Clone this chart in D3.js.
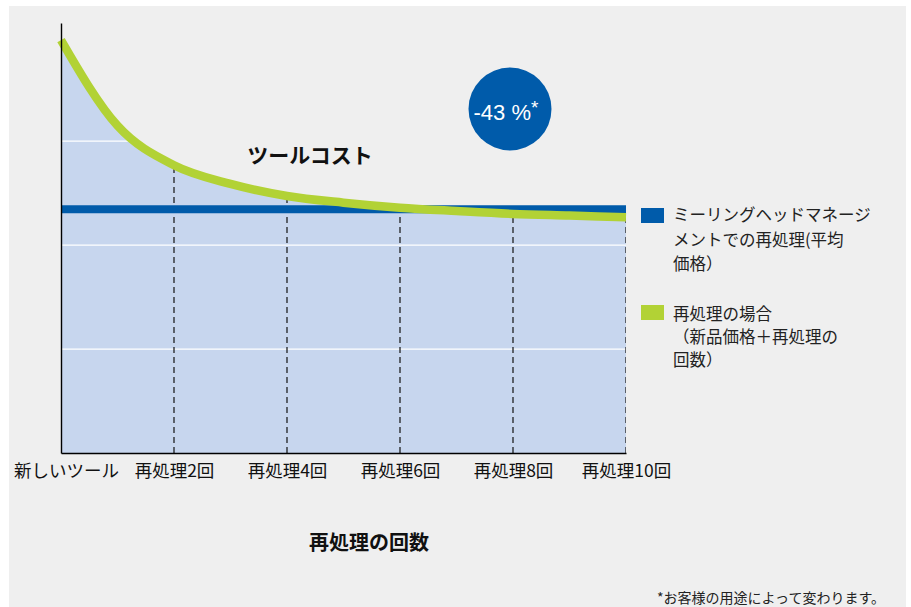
<!DOCTYPE html>
<html><head><meta charset="utf-8">
<script src="https://cdn.jsdelivr.net/npm/d3@7"></script>
<style>
body{margin:0;background:#fff;}
svg{display:block;font-family:"Noto Sans CJK JP","Noto Sans",sans-serif;}
</style></head>
<body><svg id="c" width="911" height="607"></svg>
<script>
// ---- data ----
const counts = [0,1,2,3,4,5,6,7,8,9,10];
const reprocessCost = [99.3,78.7,69.2,64.7,61.8,60.2,59.0,58.2,57.5,57.1,56.7];
const millingAvg = 58.6;
const tickCounts = [0,2,4,6,8,10];
const tickLabels = ["新しいツール","再処理2回","再処理4回","再処理6回","再処理8回","再処理10回"];
const gridValues = [25,50,75];
const legendBlue = ["ミーリングヘッドマネージ","メントでの再処理(平均","価格）"];
const legendGreen = ["再処理の場合","（新品価格＋再処理の","回数）"];

const svg = d3.select("#c");
svg.append("rect").attr("x",9).attr("y",6).attr("width",897).attr("height",601).attr("fill","#efefef");

const x = d3.scaleLinear().domain([0,10]).range([61,626]);
const y = d3.scaleLinear().domain([0,103.4]).range([453,23]);

const pts = counts.map((c,i)=>({c, v:reprocessCost[i]}));

const area = d3.area().x(d=>x(d.c)).y0(y(0)).y1(d=>y(d.v)).curve(d3.curveMonotoneX);
const line = d3.line().x(d=>x(d.c)).y(d=>y(d.v)).curve(d3.curveMonotoneX);

svg.append("clipPath").attr("id","ac").append("path").attr("d",area(pts));

svg.append("path").attr("d",area(pts)).attr("fill","#c7d6ee");

const g = svg.append("g").attr("clip-path","url(#ac)");
g.selectAll(".grid").data(gridValues).join("line")
  .attr("x1",x(0)).attr("x2",x(10)).attr("y1",d=>y(d)).attr("y2",d=>y(d))
  .attr("stroke","#fff").attr("stroke-width",1.2);
g.selectAll(".vd").data(tickCounts.slice(1)).join("line")
  .attr("x1",d=>x(d)).attr("x2",d=>x(d)).attr("y1",y(0)).attr("y2",y(110))
  .attr("stroke","#111").attr("stroke-width",1.2).attr("stroke-dasharray","6,4");

// blue average line
svg.append("line").attr("x1",x(0)).attr("x2",x(10)).attr("y1",y(millingAvg)).attr("y2",y(millingAvg))
  .attr("stroke","#005baa").attr("stroke-width",8);

// green curve
svg.append("path").attr("d",line(pts)).attr("fill","none").attr("stroke","#b2d235").attr("stroke-width",8.5);

// axes
const ya = svg.append("g").attr("transform",`translate(${x(0)},0)`)
  .call(d3.axisLeft(y).tickValues([]).tickSizeOuter(0));
ya.select(".domain").attr("stroke","#000").attr("stroke-width",1.4);
const xa = svg.append("g").attr("transform",`translate(0,${y(0)})`)
  .call(d3.axisBottom(x).tickValues(tickCounts).tickSize(0).tickPadding(12)
    .tickFormat((d,i)=>tickLabels[i]).tickSizeOuter(0));
xa.attr("font-family",null);
xa.select(".domain").attr("stroke","#000").attr("stroke-width",1.4);
xa.selectAll("text").attr("font-size",17.5).attr("fill","#111")
  .style("font-family","'Noto Sans CJK JP',sans-serif")
  .attr("dx",(d,i)=>i===0?5:0);

// chart label
svg.append("text").attr("x",310).attr("y",163).attr("text-anchor","middle")
  .attr("font-size",21).attr("font-weight","bold").attr("fill","#111").text("ツールコスト");

// circle badge
svg.append("circle").attr("cx",510).attr("cy",109).attr("r",41.5).attr("fill","#005baa");
const bt = svg.append("text").attr("x",506).attr("y",120).attr("text-anchor","middle")
  .attr("fill","#fff").attr("font-size",22).style("font-family","'Liberation Sans',Arial,sans-serif");
bt.append("tspan").text("-43 %");
bt.append("tspan").attr("font-size",19).attr("dy",-6).text("*");

// legend
svg.append("rect").attr("x",641).attr("y",208).attr("width",23).attr("height",15).attr("fill","#005baa");
svg.append("g").selectAll("text").data(legendBlue).join("text")
  .attr("x",673).attr("y",(d,i)=>221+i*24.5).attr("font-size",16.5).attr("fill","#222").text(d=>d);
svg.append("rect").attr("x",641).attr("y",305).attr("width",23).attr("height",15).attr("fill","#b2d235");
svg.append("g").selectAll("text").data(legendGreen).join("text")
  .attr("x",673).attr("y",(d,i)=>320+i*23).attr("font-size",16.5).attr("fill","#222").text(d=>d);

// x axis title
svg.append("text").attr("x",369).attr("y",550).attr("text-anchor","middle")
  .attr("font-size",20).attr("font-weight","bold").attr("fill","#111").text("再処理の回数");

// footnote
svg.append("text").attr("x",885).attr("y",603).attr("text-anchor","end")
  .attr("font-size",14).attr("fill","#222").text("*お客様の用途によって変わります。");
</script></body></html>
